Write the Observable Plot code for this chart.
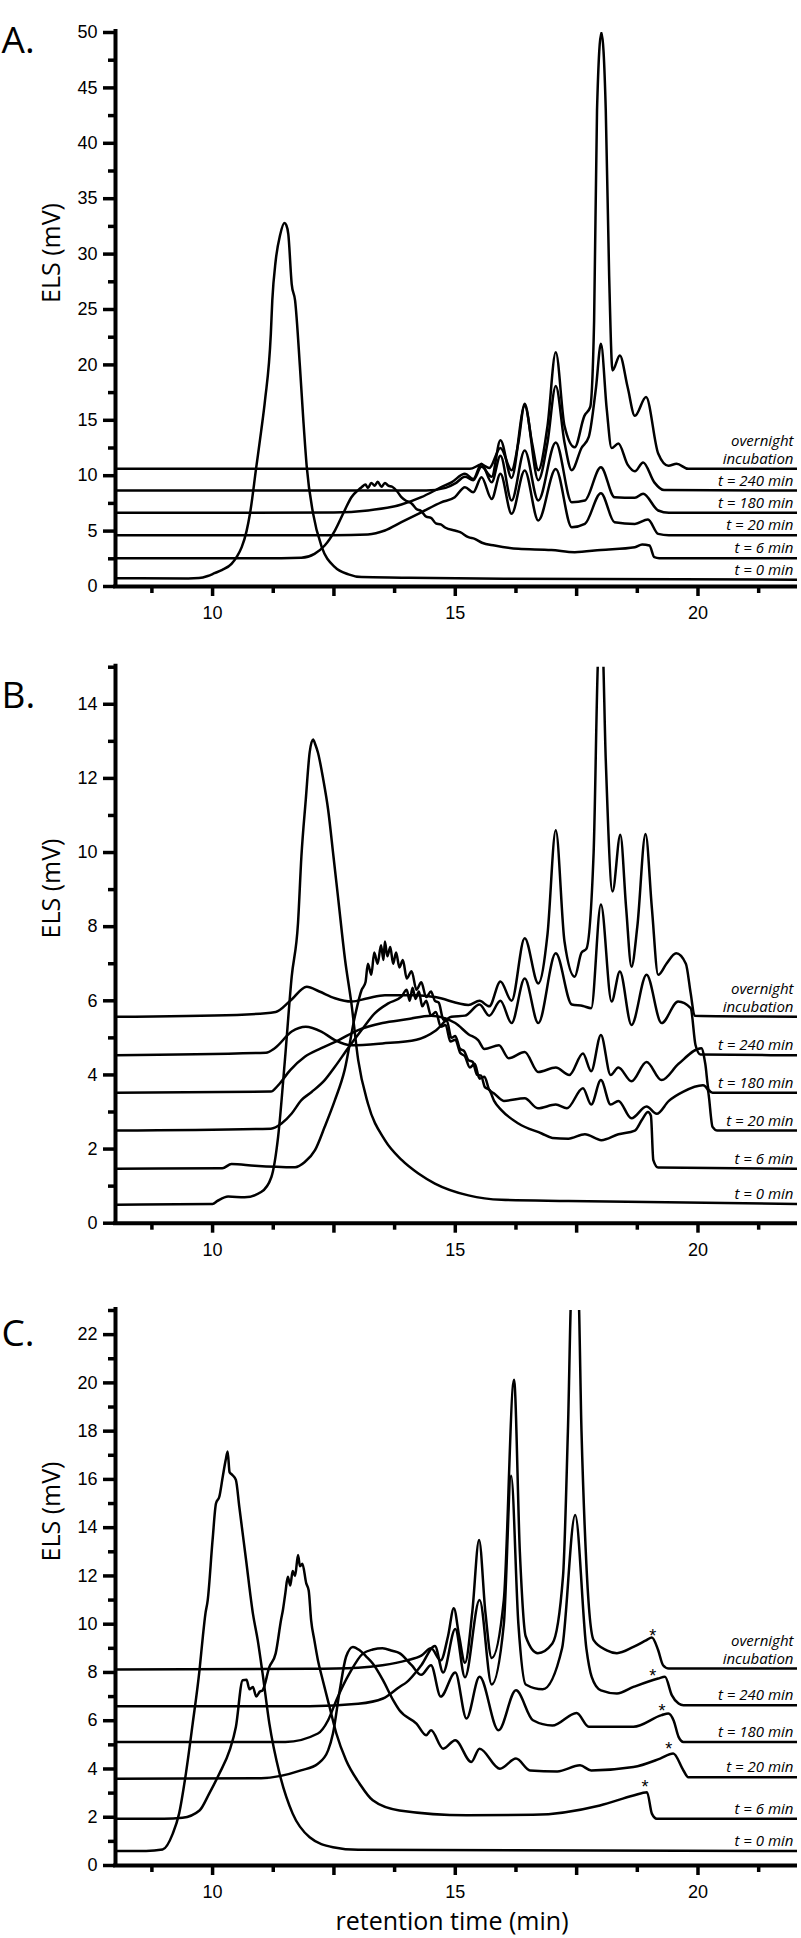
<!DOCTYPE html>
<html><head><meta charset="utf-8">
<script src="https://cdn.jsdelivr.net/npm/d3@7"></script>
<script src="https://cdn.jsdelivr.net/npm/@observablehq/plot@0.6"></script>
<style>
body{margin:0;background:#fff;}
#chart{width:801px;height:1938px;position:relative;overflow:hidden;}
#chart svg{display:block;}
</style></head><body><div id="chart"></div>
<script>
// ---------- shared ----------
const seriesLabels = ["overnight\nincubation", "t = 240 min", "t = 180 min", "t = 20 min", "t = 6 min", "t = 0 min"];
const xDomain = [8, 22.05];
const xLabelTicks = [10, 15, 20];
const xMajorTicks = [12.5, 17.5];
const xMinorTicks = [8.75, 11.25, 13.75, 16.25, 18.75, 21.25];
const yLabelText = "ELS (mV)";
const xLabelText = "retention time (min)";

// ---------- panel A ----------
const A_overnight = [[8,10.62],[15.3,10.62],[15.54,11.0],[15.7,10.7],[15.93,12.5],[16.16,10.5],[16.3,13],[16.43,16.5],[16.58,13],[16.71,10.5],[16.9,14.5],[17.07,21.15],[17.25,14.5],[17.46,12.57],[17.66,15.4],[17.78,16.2],[17.86,24],[17.92,43],[18.01,50],[18.1,43],[18.17,28],[18.24,19.5],[18.39,20.85],[18.55,18.0],[18.7,15.4],[18.93,17.1],[19.18,12],[19.39,10.9],[19.56,11.07],[19.8,10.62],[22.05,10.62]];
const A_t240 = [[8,8.66],[14.4,8.66],[14.8,8.9],[15.0,9.3],[15.2,9.9],[15.37,9.6],[15.54,10.8],[15.75,9.9],[15.93,13.2],[16.16,9.8],[16.43,16.3],[16.71,9.6],[16.9,13],[17.07,18.1],[17.25,13],[17.4,10.5],[17.6,12.5],[17.75,13.5],[17.9,18],[18.0,21.9],[18.12,16],[18.22,12.5],[18.36,12.9],[18.55,11.0],[18.7,10.4],[18.87,11.2],[19.1,9.4],[19.3,8.7],[22.05,8.66]];
const A_t180 = [[8,6.65],[12.5,6.68],[13.2,6.86],[13.89,7.4],[14.3,8.06],[14.71,8.96],[14.92,9.4],[15.2,10.17],[15.37,9.7],[15.54,11.07],[15.75,9.4],[15.93,11.8],[16.16,7.76],[16.43,12.27],[16.71,7.76],[17.07,13.0],[17.4,7.6],[17.67,7.76],[18.0,10.77],[18.28,8.06],[18.7,8.0],[18.87,8.37],[19.18,6.86],[19.4,6.65],[22.05,6.65]];
const A_t20 = [[8,4.63],[12.5,4.63],[13.2,4.7],[13.55,5.05],[13.89,5.8],[14.3,6.7],[14.71,7.6],[14.99,8.06],[15.2,8.96],[15.37,8.5],[15.54,9.86],[15.75,7.9],[15.93,10.17],[16.16,6.56],[16.43,10.47],[16.71,5.96],[17.07,10.6],[17.4,5.35],[17.67,5.65],[18.0,8.42],[18.28,5.8],[18.7,5.65],[18.97,6.05],[19.18,4.75],[19.4,4.63],[22.05,4.63]];
const A_t6 = [[8,2.56],[11.0,2.55],[11.83,2.6],[12.1,2.95],[12.31,3.7],[12.52,5.05],[12.72,6.86],[12.86,8.06],[13.0,8.7],[13.07,8.96],[13.15,9.2],[13.2,8.9],[13.27,9.35],[13.34,9.1],[13.4,9.45],[13.48,9.0],[13.55,9.35],[13.62,9.1],[13.7,9.0],[13.8,8.6],[13.89,8.06],[14.0,7.7],[14.1,7.5],[14.2,7.0],[14.3,6.8],[14.4,6.3],[14.5,6.2],[14.6,5.7],[14.7,5.6],[14.8,5.3],[14.99,5.05],[15.1,4.9],[15.27,4.45],[15.4,4.3],[15.55,3.95],[15.81,3.7],[16.3,3.4],[16.98,3.3],[17.46,3.1],[18.0,3.3],[18.7,3.55],[18.85,3.8],[19.0,3.7],[19.1,2.65],[19.2,2.56],[22.05,2.56]];
const A_t0 = [[8,0.75],[9.5,0.72],[9.72,0.76],[9.9,0.95],[10.04,1.2],[10.2,1.5],[10.39,2.05],[10.5,2.7],[10.6,3.55],[10.7,5.0],[10.77,6.56],[10.9,10.77],[11.0,14.0],[11.08,16.8],[11.2,22.8],[11.23,25.8],[11.3,29.4],[11.39,31.7],[11.48,32.8],[11.52,32.6],[11.56,31.8],[11.63,27.3],[11.7,25.8],[11.8,19.8],[11.87,15],[11.94,10.8],[12.07,6.6],[12.25,3.55],[12.52,1.75],[12.8,1.1],[13.07,0.85],[13.9,0.8],[16,0.7],[22.05,0.62]];
const A_yMajor = [0,5,10,15,20,25,30,35,40,45,50];
const A_yMinor = [2.5,7.5,12.5,17.5,22.5,27.5,32.5,37.5,42.5,47.5];

// ---------- panel B ----------
const B_overnight = [[8,5.57],[10.5,5.62],[11.3,5.7],[11.6,6.0],[11.94,6.38],[12.2,6.25],[12.52,6.07],[12.86,5.98],[13.2,6.07],[13.55,6.15],[14.2,6.15],[14.58,6.1],[15.27,5.89],[15.5,6.0],[15.7,5.85],[15.93,6.52],[16.16,6.0],[16.43,7.69],[16.71,6.47],[16.9,7.8],[17.07,10.6],[17.25,7.6],[17.46,6.65],[17.6,7.3],[17.7,7.4],[17.85,10],[17.95,15.5],[18.02,16],[18.1,12.5],[18.24,8.95],[18.4,10.48],[18.52,8.5],[18.63,6.92],[18.75,8.0],[18.92,10.5],[19.05,8.5],[19.18,6.7],[19.35,7.0],[19.55,7.28],[19.75,7.0],[19.85,6.2],[19.93,5.6],[22.05,5.57]];
const B_t240 = [[8,4.53],[11.1,4.6],[11.28,4.72],[11.63,5.17],[11.92,5.3],[12.24,5.17],[12.52,4.94],[12.86,4.8],[13.5,4.85],[14.2,4.95],[14.6,5.2],[14.92,5.57],[15.2,5.6],[15.5,5.9],[15.7,5.6],[15.93,6.0],[16.16,5.4],[16.43,6.6],[16.71,5.4],[17.07,7.28],[17.4,5.9],[17.63,5.86],[17.8,5.8],[18.0,8.6],[18.22,5.98],[18.39,6.79],[18.63,5.35],[18.94,6.7],[19.25,5.4],[19.59,5.98],[19.85,5.8],[19.95,4.8],[20.05,4.55],[22.05,4.53]];
const B_t180 = [[8,3.52],[11.2,3.55],[11.35,3.72],[11.6,4.13],[11.9,4.49],[12.24,4.72],[12.6,4.94],[13.0,5.21],[13.5,5.4],[14.0,5.5],[14.5,5.6],[15.0,5.4],[15.27,5.1],[15.47,4.94],[15.6,4.7],[15.9,4.8],[16.1,4.45],[16.43,4.62],[16.71,4.08],[17.07,4.2],[17.35,4.0],[17.63,4.58],[17.8,4.1],[18.0,5.08],[18.2,4.0],[18.36,4.2],[18.63,3.83],[18.94,4.35],[19.25,3.86],[19.6,4.3],[20.07,4.72],[20.15,4.3],[20.22,3.6],[20.3,3.52],[22.05,3.52]];
const B_t20 = [[8,2.5],[11.2,2.55],[11.42,2.69],[11.63,2.96],[11.83,3.32],[12.04,3.54],[12.31,3.86],[12.52,4.22],[12.79,4.72],[13.07,5.21],[13.34,5.66],[13.62,5.93],[13.89,6.11],[14.0,6.3],[14.06,6.0],[14.12,6.35],[14.18,6.05],[14.25,6.25],[14.32,5.85],[14.4,6.0],[14.5,5.6],[14.6,5.7],[14.7,5.3],[14.8,5.35],[14.9,4.9],[15.0,4.95],[15.1,4.6],[15.2,4.5],[15.3,4.2],[15.4,4.3],[15.5,3.9],[15.6,3.95],[15.7,3.6],[15.8,3.5],[16.0,3.3],[16.43,3.37],[16.7,3.1],[17.07,3.2],[17.3,3.1],[17.63,3.64],[17.8,3.2],[18.0,3.86],[18.2,3.2],[18.36,3.3],[18.63,2.83],[18.94,3.15],[19.15,2.95],[19.4,3.3],[19.7,3.55],[20.1,3.72],[20.2,3.6],[20.3,2.6],[20.4,2.5],[22.05,2.5]];
const B_t6 = [[8,1.47],[10.2,1.48],[10.39,1.6],[10.87,1.55],[11.7,1.51],[11.9,1.65],[12.11,1.97],[12.31,2.6],[12.52,3.32],[12.72,4.13],[12.93,5.57],[13.07,6.29],[13.15,6.5],[13.2,7.0],[13.27,6.7],[13.33,7.3],[13.4,7.0],[13.47,7.5],[13.52,7.1],[13.55,7.6],[13.6,7.2],[13.66,7.45],[13.72,7.0],[13.78,7.3],[13.85,6.9],[13.92,7.1],[14.0,6.6],[14.1,6.8],[14.2,6.3],[14.3,6.5],[14.4,6.1],[14.5,6.25],[14.58,6.0],[14.66,5.95],[14.75,5.5],[14.83,5.45],[14.92,5.0],[15.0,5.05],[15.1,4.7],[15.18,4.65],[15.27,4.4],[15.36,4.35],[15.45,4.0],[15.53,3.98],[15.61,3.67],[15.7,3.6],[15.8,3.3],[15.95,3.05],[16.3,2.69],[16.78,2.42],[17.0,2.3],[17.33,2.28],[17.67,2.4],[18.01,2.24],[18.36,2.4],[18.7,2.5],[18.85,2.8],[18.97,3.0],[19.03,2.9],[19.08,1.7],[19.18,1.5],[22.05,1.47]];
const B_t0 = [[8,0.5],[10.0,0.52],[10.1,0.6],[10.32,0.72],[10.66,0.7],[11.0,0.84],[11.21,1.24],[11.35,2.33],[11.49,4.4],[11.63,6.65],[11.76,8.1],[11.83,9.9],[11.92,11.43],[12.0,12.7],[12.07,13.05],[12.12,12.9],[12.17,12.7],[12.28,11.97],[12.38,11.16],[12.49,9.9],[12.59,8.73],[12.73,7.1],[12.86,5.93],[13.0,4.4],[13.2,3.23],[13.55,2.24],[13.9,1.7],[14.24,1.34],[14.58,1.07],[15.27,0.75],[15.95,0.63],[17.33,0.6],[22.05,0.52]];
const B_yMajor = [0,2,4,6,8,10,12,14];
const B_yMinor = [1,3,5,7,9,11,13,15];

// ---------- panel C ----------
const C_overnight = [[8,8.12],[12.0,8.15],[13.0,8.2],[13.5,8.3],[14.0,8.5],[14.3,8.7],[14.5,9.0],[14.7,8.5],[14.85,9.5],[14.97,10.66],[15.08,9.5],[15.2,8.4],[15.35,10.5],[15.49,13.49],[15.62,10.5],[15.75,8.6],[16.0,11],[16.21,20.13],[16.33,13],[16.45,9.5],[16.7,8.8],[17.0,9.2],[17.22,12],[17.32,18],[17.4,24],[17.53,24],[17.6,18],[17.7,12.5],[17.85,9.34],[18.12,8.92],[18.33,8.8],[18.67,9.06],[18.94,9.34],[19.05,9.45],[19.18,8.92],[19.28,8.3],[19.4,8.16],[22.05,8.16]];
const C_t240 = [[8,6.6],[12.0,6.6],[13.0,6.7],[13.51,6.92],[13.85,7.4],[14.0,7.6],[14.3,8.3],[14.58,9.1],[14.75,8.0],[15.0,9.8],[15.2,7.8],[15.5,11.0],[15.75,7.5],[16.0,10],[16.15,16.15],[16.3,10],[16.45,7.5],[16.8,7.3],[17.2,9],[17.47,14.53],[17.7,9],[17.81,7.82],[18.0,7.26],[18.33,7.13],[18.67,7.4],[19.18,7.75],[19.32,7.82],[19.46,7.06],[19.6,6.71],[19.7,6.64],[22.05,6.64]];
const C_t180 = [[8,5.12],[11.5,5.12],[12.17,5.47],[12.38,6.02],[12.55,6.85],[12.82,7.96],[13.1,8.79],[13.3,8.95],[13.5,9.0],[13.7,8.9],[13.85,8.8],[14.1,8.3],[14.3,7.9],[14.5,8.3],[14.7,7.0],[15.0,8.0],[15.23,6.09],[15.5,7.82],[15.89,5.6],[16.25,7.26],[16.6,6.02],[17.0,5.8],[17.5,6.32],[17.75,5.75],[18.67,5.75],[19.25,6.23],[19.39,6.3],[19.5,6.0],[19.6,5.33],[19.7,5.12],[22.05,5.12]];
const C_t20 = [[8,3.6],[11.0,3.62],[11.82,3.94],[12.17,4.22],[12.38,4.77],[12.48,5.47],[12.62,7.26],[12.75,8.65],[12.89,9.06],[13.03,8.92],[13.17,8.65],[13.3,8.37],[13.51,7.68],[13.72,6.85],[13.85,6.43],[14.2,5.88],[14.4,5.4],[14.5,5.6],[14.75,4.84],[15.0,5.19],[15.33,4.29],[15.5,4.84],[15.92,4.01],[16.25,4.43],[16.54,3.94],[17.1,3.9],[17.57,4.15],[17.8,3.94],[18.67,4.08],[19.22,4.43],[19.49,4.64],[19.7,3.94],[19.8,3.66],[22.05,3.66]];
const C_t6 = [[8,1.94],[9.0,1.94],[9.38,1.98],[9.73,2.28],[9.93,2.98],[10.14,3.81],[10.35,4.77],[10.48,5.74],[10.62,7.68],[10.7,7.7],[10.76,7.3],[10.83,7.4],[10.9,7.0],[10.97,7.2],[11.03,7.26],[11.17,8.23],[11.3,8.79],[11.41,10.17],[11.45,10.6],[11.5,11.3],[11.55,11.97],[11.6,11.6],[11.65,12.2],[11.7,12.0],[11.76,12.87],[11.8,12.4],[11.85,12.5],[11.93,11.69],[11.98,11.4],[12.03,10.17],[12.1,9.3],[12.17,8.51],[12.27,7.68],[12.41,6.57],[12.55,5.47],[12.75,4.36],[13.03,3.39],[13.3,2.7],[13.85,2.28],[15.23,2.08],[16.6,2.1],[17.98,2.49],[18.67,2.9],[18.95,3.04],[19.05,2.15],[19.15,1.94],[22.05,1.94]];
const C_t0 = [[8,0.6],[8.63,0.6],[8.97,0.66],[9.18,1.32],[9.31,2.15],[9.45,3.81],[9.59,5.88],[9.73,8.09],[9.8,9.5],[9.85,10.4],[9.9,11.0],[10.0,13.49],[10.07,15.0],[10.14,15.29],[10.21,16.12],[10.27,16.8],[10.31,17.16],[10.35,16.3],[10.4,16.2],[10.48,15.98],[10.55,14.87],[10.69,12.66],[10.83,10.45],[10.93,9.34],[11.03,7.96],[11.17,5.88],[11.38,3.81],[11.65,2.15],[12.0,1.17],[12.48,0.76],[13.0,0.65],[22.05,0.6]];
const C_yMajor = [0,2,4,6,8,10,12,14,16,18,20,22];
const C_yMinor = [1,3,5,7,9,11,13,15,17,19,21,23];
const C_starX = [19.07, 19.07, 19.26, 19.4, 18.91];
const C_starY = [9.68, 8.02, 6.57, 4.98, 3.42];

// ---------- drawing ----------
function panel(o) {
  const rows = o.traces.flatMap((pts, i) => pts.map(([x, y]) => ({series: i, x, y})));
  const ends = o.traces.map((pts, i) => ({label: seriesLabels[i], y: pts[pts.length - 1][1]}));
  const marks = [
    Plot.line(rows, {x: "x", y: "y", z: "series", stroke: "black", strokeWidth: 2.5, curve: "monotone-x", clip: true}),
    Plot.ruleY([o.yDomain[0]], {stroke: "black", strokeWidth: 4, insetLeft: -2}),
    Plot.ruleX([xDomain[0]], {stroke: "black", strokeWidth: 4, insetTop: -3, insetBottom: -2}),
    Plot.axisY({ticks: o.yMajor, tickSize: 12, tickPadding: 6, strokeWidth: 3.5, stroke: "black", label: null}),
    Plot.axisY({ticks: o.yMinor, tickSize: 7, strokeWidth: 3.5, stroke: "black", tickFormat: () => "", label: null}),
    Plot.axisX({ticks: xLabelTicks, tickSize: 10, tickPadding: 10, strokeWidth: 3.5, stroke: "black", label: null}),
    Plot.axisX({ticks: xMajorTicks, tickSize: 10, strokeWidth: 3.5, stroke: "black", tickFormat: () => "", label: null}),
    Plot.axisX({ticks: xMinorTicks, tickSize: 7, strokeWidth: 3.5, stroke: "black", tickFormat: () => "", label: null}),
    Plot.text(ends, {frameAnchor: "right", y: "y", text: "label", textAnchor: "end", lineAnchor: "bottom", dx: -4, dy: -5,
      fontFamily: "Open Sans", fontStyle: "italic", fontSize: 15, lineHeight: 1.2}),
    Plot.text([yLabelText], {text: d => d, frameAnchor: "left", rotate: -90, dx: -64, dy: o.yLabelDy, fontFamily: "Open Sans", fontSize: 25}),
    Plot.text([o.letter], {text: d => d, frameAnchor: "top-left", textAnchor: "start", dx: -114, dy: o.letterDy, fontFamily: "Open Sans", fontSize: 37})
  ];
  if (o.stars) {
    marks.push(Plot.text(o.stars.x.map((x, i) => ({x, y: o.stars.y[i]})), {x: "x", y: "y", text: () => "*", fontSize: 18, dy: 4, fontFamily: "Liberation Sans"}));
  }
  if (o.xLabel) {
    marks.push(Plot.text([o.xLabel], {text: d => d, frameAnchor: "bottom", lineAnchor: "bottom", dx: -4.5, dy: 64, fontFamily: "Open Sans", fontSize: 25}));
  }
  return Plot.plot({
    width: 801, height: o.height,
    marginLeft: 115, marginRight: 4, marginTop: o.marginTop, marginBottom: o.marginBottom,
    x: {domain: xDomain, label: null},
    y: {domain: o.yDomain, label: null},
    style: {fontFamily: "Liberation Sans", fontSize: "18px", background: "white", overflow: "visible"},
    marks
  });
}

const chart = document.getElementById("chart");
chart.append(panel({letter: "A.", traces: [A_overnight, A_t240, A_t180, A_t20, A_t6, A_t0], yDomain: [0, 50], yMajor: A_yMajor, yMinor: A_yMinor,
  height: 630, marginTop: 32, marginBottom: 44, letterDy: -6, yLabelDy: -6.5}));
chart.append(panel({letter: "B.", traces: [B_overnight, B_t240, B_t180, B_t20, B_t6, B_t0], yDomain: [0, 15], yMajor: B_yMajor, yMinor: B_yMinor,
  height: 640, marginTop: 36.7, marginBottom: 47.3, letterDy: 14.5, yLabelDy: -6.7}));
chart.append(panel({letter: "C.", traces: [C_overnight, C_t240, C_t180, C_t20, C_t6, C_t0], yDomain: [0, 23], yMajor: C_yMajor, yMinor: C_yMinor,
  height: 668, marginTop: 40, marginBottom: 73, letterDy: 9.2, yLabelDy: -26.5, stars: {x: C_starX, y: C_starY}, xLabel: xLabelText}));
</script></body></html>
